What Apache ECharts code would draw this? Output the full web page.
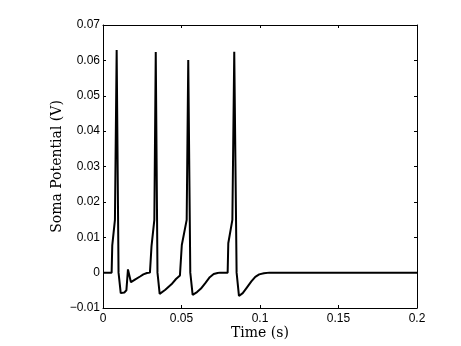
<!DOCTYPE html>
<html>
<head>
<meta charset="utf-8">
<script src="https://cdn.jsdelivr.net/npm/echarts@6/dist/echarts.min.js"></script>
<style>
    html, body { margin: 0; padding: 0; background: #fff; }
    #chart { width: 461px; height: 346px; }
</style>
</head>
<body>
<div id="chart"></div>
<script>
// time (s) and soma potential (V)
var timeS = [0, 0.0055, 0.0059, 0.0076, 0.0087, 0.0099, 0.0113, 0.0123, 0.0136, 0.0149, 0.0159, 0.0178, 0.0206, 0.0236, 0.0257, 0.0280, 0.0299,
    0.0303, 0.0309, 0.0327, 0.0336, 0.0347, 0.0361, 0.0371, 0.0395, 0.0436, 0.0465, 0.0490, 0.0498,
    0.0502, 0.0533, 0.0543, 0.0556, 0.0571, 0.0599, 0.0624, 0.0654, 0.0680, 0.0705, 0.0730, 0.0745, 0.0794,
    0.0798, 0.0824, 0.0836, 0.0851, 0.0866, 0.0890, 0.0915, 0.0945, 0.0970, 0.0995, 0.1025, 0.1060, 0.2];
var somaV = [0, 0, 0.0077, 0.0149, 0.0629, 0.0, -0.0058, -0.0063, -0.0056, -0.0050, 0.0009, -0.0027, -0.0019, -0.0011, -0.0005, -0.0001, 0,
    0, 0.0075, 0.0149, 0.0624, 0.0, -0.0060, -0.0063, -0.0049, -0.0033, -0.0018, -0.0008, -0.0005,
    0.0078, 0.0149, 0.0601, 0.0, -0.0063, -0.0055, -0.0045, -0.0028, -0.0013, -0.0004, -0.0001, 0, 0,
    0.0083, 0.0149, 0.0624, 0.0, -0.0066, -0.0058, -0.0043, -0.0025, -0.0012, -0.0005, -0.0002, 0, 0];

var xTitle = 'Time (s)';
var yTitle = 'Soma Potential (V)';

function fmtTick(v) {
    var s = String(+Math.abs(v).toFixed(2));
    return v < 0 ? '\u2212' + s : s;
}

var points = [];
for (var i = 0; i < timeS.length; i++) {
    points.push([timeS[i], somaV[i]]);
}

var axisLine = { show: true, onZero: false, lineStyle: { color: '#000', width: 1 } };
var tickIn = { show: true, inside: true, length: 3, lineStyle: { color: '#000' } };
var tickFont = { color: '#000', fontSize: 12, fontFamily: 'Liberation Sans, Arial, sans-serif' };
var titleFont = { color: '#000', fontSize: 14, fontFamily: 'DejaVu Serif, serif' };

var chart = echarts.init(document.getElementById('chart'));
chart.setOption({
    animation: false,
    backgroundColor: '#fff',
    grid: { left: 103, right: 44, top: 25, bottom: 38 },
    xAxis: [{
        type: 'value', min: 0, max: 0.2, interval: 0.05, position: 'bottom',
        name: xTitle, nameLocation: 'middle', nameGap: 18, nameTextStyle: titleFont,
        nameMoveOverlap: false,
        axisLine: axisLine, axisTick: tickIn,
        axisLabel: Object.assign({ margin: 5, formatter: fmtTick }, tickFont),
        splitLine: { show: false }
    }, {
        type: 'value', min: 0, max: 0.2, interval: 0.05, position: 'top',
        axisLine: axisLine, axisTick: tickIn, axisLabel: { show: false }, splitLine: { show: false }
    }],
    yAxis: [{
        type: 'value', min: -0.01, max: 0.07, interval: 0.01, position: 'left',
        name: yTitle, nameLocation: 'middle', nameGap: 39, nameTextStyle: titleFont,
        nameMoveOverlap: false,
        axisLine: axisLine, axisTick: tickIn,
        axisLabel: Object.assign({ margin: 3, formatter: fmtTick }, tickFont),
        splitLine: { show: false }
    }, {
        type: 'value', min: -0.01, max: 0.07, interval: 0.01, position: 'right',
        axisLine: axisLine, axisTick: tickIn, axisLabel: { show: false }, splitLine: { show: false }
    }],
    series: [{
        type: 'line',
        data: points,
        showSymbol: false,
        lineStyle: { color: '#000', width: 2 },
        z: 3
    }]
});
</script>
</body>
</html>
